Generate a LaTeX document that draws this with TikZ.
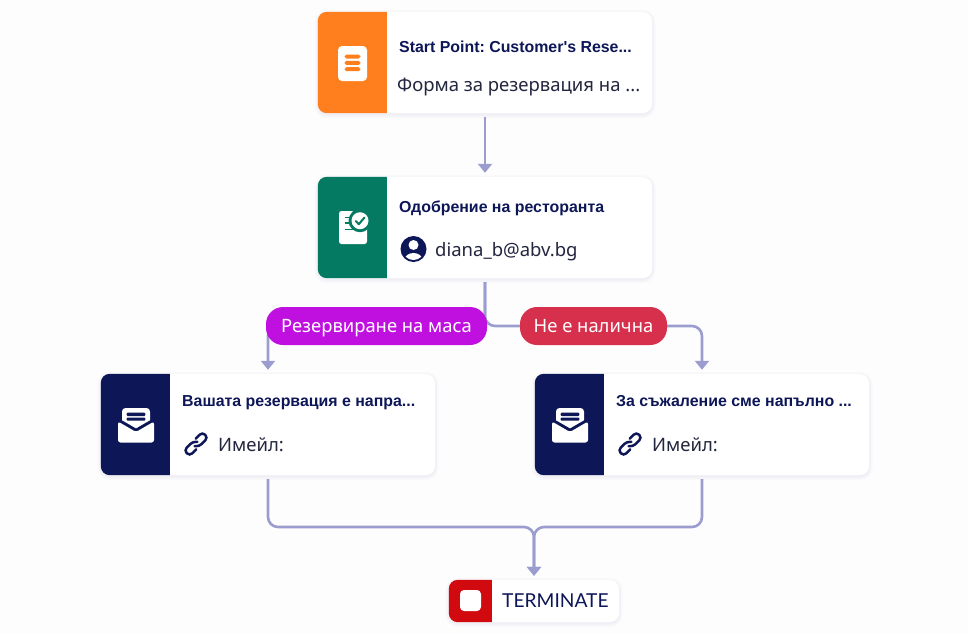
\documentclass[tikz,border=0pt]{standalone}
\usepackage{fontspec}
\setmainfont{Noto Sans}
\newfontfamily\titlefont{Liberation Sans}
\newfontfamily\termfont{Lato}
\usetikzlibrary{arrows.meta,calc,backgrounds}
\definecolor{navy}{HTML}{0D1657}
\definecolor{inktext}{HTML}{23263F}
\definecolor{linkline}{HTML}{9A9DCE}
\definecolor{orangeb}{HTML}{FF7F1E}
\definecolor{greenb}{HTML}{047A63}
\definecolor{redb}{HTML}{D10A10}
\definecolor{pillp}{HTML}{C010DF}
\definecolor{pillr}{HTML}{D6304D}
\definecolor{shade}{HTML}{8088B0}
\tikzset{
  x=1pt,y=-1pt,
  cardbox/.style={draw=none,fill=white,rounded corners=9pt,minimum width=334pt,minimum height=101pt,inner sep=0pt,
    preaction={draw=shade,draw opacity=.03,line width=7pt,transform canvas={yshift=-1.5pt}},
    preaction={draw=shade,draw opacity=.04,line width=4pt,transform canvas={yshift=-1.5pt}},
    preaction={draw=shade,draw opacity=.04,line width=2pt,transform canvas={yshift=-1pt}}},
  termbox/.style={cardbox,minimum width=170pt,minimum height=42pt},
  titletext/.style={anchor=base west,inner sep=0pt,text=navy,font=\frenchspacing\titlefont\bfseries\fontsize{15.9pt}{17pt}\selectfont},
  bodytext/.style={anchor=base west,inner sep=0pt,text=inktext,font=\frenchspacing\fontsize{18.5pt}{20pt}\selectfont},
  termtext/.style={anchor=base west,inner sep=0pt,text=navy,font=\termfont\fontsize{19.2pt}{22pt}\selectfont},
  pilltext/.style={rounded corners=17pt,inner sep=0pt,text=white,minimum height=38pt,text height=15pt,text depth=1.6pt,font=\fontsize{18.4pt}{20pt}\selectfont},
  connector/.style={draw=linkline,line width=2.6pt,rounded corners=10pt},
  tipped/.style={connector,-{Triangle[width=14pt,length=9pt]},shorten >=4pt},
  gapstart/.style={shorten <=4pt},
}
\newcommand{\strip}[3]{%
  \fill[#3] ($(#1.north west)+(#2,0)$) [rounded corners=9pt] -- (#1.north west) -- (#1.south west) [sharp corners] -- ($(#1.south west)+(#2,0)$) -- cycle;}
\newcommand{\mailicon}[2]{%
  \begin{scope}[shift={(#1,#2)}]
    \fill[white,rounded corners=3.5pt] (-14,-17.5) rectangle (14,5);
    \fill[navy] (-19,-8) -- (0,3) -- (19,-8) -- (19,0) -- (0,10) -- (-19,0) -- cycle;
    \fill[white,rounded corners=2.5pt] (-18,-4) -- (0,6.5) -- (18,-4) -- (18,17) -- (-18,17) -- cycle;
    \fill[navy,rounded corners=1pt] (-9.3,-12.8) rectangle (9.3,-9.5);
    \fill[navy,rounded corners=1pt] (-9.3,-8) rectangle (9.3,-4.8);
  \end{scope}}
\newcommand{\linkicon}[2]{%
  \begin{scope}[shift={(#1,#2)},rotate=45]
    \draw[navy,line width=2.5pt,line cap=round,rounded corners=3.8pt] (2.5,-0.5) -- (0,-4) -- (-13,-4) -- (-13,4) -- (-3.5,4);
    \draw[navy,line width=2.5pt,line cap=round,rounded corners=3.8pt] (-2.5,0.5) -- (0,4) -- (13,4) -- (13,-4) -- (3.5,-4);
  \end{scope}}
\begin{document}
\begin{tikzpicture}
\useasboundingbox (0,0) rectangle (968,633);

% cards
\node[cardbox] (c1) at (485,62.5) {};
\node[cardbox] (c2) at (485,227.5) {};
\node[cardbox] (c3) at (268,424.5) {};
\node[cardbox] (c4) at (702,424.5) {};
\node[termbox] (t) at (534,601) {};
\strip{c1}{69}{orangeb}
\strip{c2}{69}{greenb}
\strip{c3}{69}{navy}
\strip{c4}{69}{navy}
\strip{t}{43}{redb}

% texts
\node[titletext] (c1t) at (399,52.5) {Start Point: Customer's Rese...};
\node[bodytext] (c1b) at (397,91) {Форма за резервация на ...};
\node[titletext] (c2t) at (399,212.7) {Одобрение на ресторанта};
\node[bodytext] (c2b) at (435,256) {diana\_b@abv.bg};
\node[titletext] (c3t) at (182,406.5) {Вашата резервация е напра...};
\node[bodytext] (c3b) at (218,451) {Имейл:};
\node[titletext] (c4t) at (616,406.5) {За съжаление сме напълно ...};
\node[bodytext] (c4b) at (652,451) {Имейл:};
\node[termtext] (tt) at (502,607.7) {TERMINATE};

% pills
\node[pilltext,fill=pillp,minimum width=221pt] (p1) at (376.5,326) {Резервиране на маса};
\node[pilltext,fill=pillr,minimum width=147pt] (p2) at (593.5,326) {Не е налична};

% connectors
\coordinate (j) at (534,527);
\begin{scope}[on background layer]
  \fill[white!98!linkline] (0,0) rectangle (968,633);
  \draw[tipped,gapstart] (c1.south) -- (c2.north);
  \draw[connector,gapstart] (c2.south) |- (p1.center);
  \draw[connector,gapstart] (c2.south) |- (p2.west);
  \draw[tipped] (p1.center) -| (c3.north);
  \draw[tipped] (p2.east) -| (c4.north);
  \draw[tipped,gapstart] (c3.south) |- (j) -- (t.north);
  \draw[tipped,gapstart] (c4.south) |- (j) -- (t.north);
\end{scope}

% document icon
\fill[white,rounded corners=4pt] (338,46) rectangle (367,81);
\foreach \yy in {56.5,62.8,69.2} \fill[orangeb,rounded corners=1.8pt] (344.5,\yy-2) rectangle (360.5,\yy+2);

% approval icon
\fill[white,rounded corners=2.5pt] (339,211) -- (354,211) -- (354,226) -- (367,226) -- (367,244) -- (339,244) -- cycle;
\fill[greenb] (360,220.7) circle[radius=11.5pt];
\fill[white] (360,220.7) circle[radius=8.5pt];
\draw[greenb,line width=2pt,line cap=round,line join=round] (355.8,221) -- (358.8,224.2) -- (364.5,217.5);
\draw[greenb,line width=1.6pt] (344.5,217.5) -- (349,217.5);
\draw[greenb,line width=1.6pt] (344.5,223) -- (349,223);
\draw[greenb,line width=1.6pt] (344.5,229.5) -- (358,229.5);

% mail icons
\mailicon{136}{425.5}
\mailicon{570}{425.5}

% avatar
\fill[navy] (413.5,249) circle[radius=13pt];
\fill[white] (413.5,245) circle[radius=5pt];
\begin{scope}
  \clip (413.5,249) circle[radius=11pt];
  \fill[white] (413.5,260) ellipse[x radius=9pt,y radius=7pt];
\end{scope}

% link icons
\linkicon{196}{444}
\linkicon{630}{444}

% terminate icon
\fill[white,rounded corners=4pt] (460,590) rectangle (481,611);
\end{tikzpicture}
\end{document}
